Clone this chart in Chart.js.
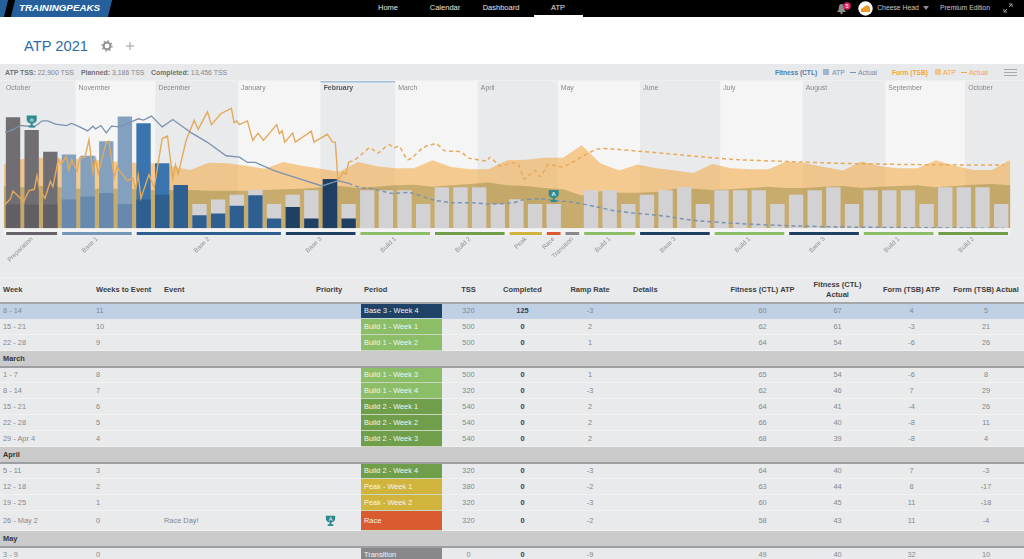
<!DOCTYPE html>
<html>
<head>
<meta charset="utf-8">
<title>ATP 2021</title>
<script src="https://cdn.jsdelivr.net/npm/chart.js@4/dist/chart.umd.min.js"></script>
<style>
* { box-sizing: border-box; }
html, body { margin: 0; padding: 0; width: 1024px; height: 559px; overflow: hidden; background: #fff; font-family: "Liberation Sans", Arial, sans-serif; }
.abs { position: absolute; white-space: nowrap; }
#nav { position: absolute; left: 0; top: 0; width: 1024px; height: 17px; background: #000; color: #e6e6e6; font-size: 7.5px; }
#nav .item { position: absolute; top: 3px; line-height: 10px; transform: translateX(-50%); }
#nav .item.side { font-size: 6.8px; color: #c9c9c9; }
#logoLeft { position: absolute; left: -4px; top: 0; width: 10px; height: 17px; background: #25609c; transform: skewX(-14deg); }
#logo { position: absolute; left: 13px; top: 0; width: 97px; height: 17px; background: #25609c; transform: skewX(-14deg); }
#logoText { position: absolute; left: 19px; top: 3px; color: #fff; font-size: 9.8px; line-height: 10px; font-weight: bold; font-style: italic; }
#active { position: absolute; left: 534px; top: 15px; width: 49px; height: 2px; background: #fff; }
#title { left: 24px; top: 37px; font-size: 14.7px; line-height: 18px; color: #2d6ba6; }
#toolbar { position: absolute; left: 0; top: 64px; width: 1024px; height: 17px; background: #e8e9eb; font-size: 6.9px; line-height: 17px; color: #85878b; border-bottom: 1px solid #f0f0f1; }
#toolbar b { color: #6f7175; }
#toolbar b.legend { font-size: 6.6px; }
#atpChart { position: absolute; left: 0; top: 81px; }
#week { position: absolute; left: 0; top: 277px; width: 1024px; border-collapse: collapse; table-layout: fixed; font-size: 7.4px; color: #85878b; background: #e9eaec; }
#week th { height: 25px; padding: 0 3px; font-size: 7.5px; line-height: 9.5px; color: #3c3d40; text-align: center; border-top: 1px solid #f2f2f3; border-bottom: 2px solid #a5a7aa; font-weight: bold; }
#week th.l, #week td.l { text-align: left; }
#week td { height: 16px; padding: 0 3px; line-height: 10px; text-align: center; border-bottom: 1px solid #f1f1f2; overflow: hidden; white-space: nowrap; }
#week tr.sel td { background: #c0d1e6; border-bottom-color: #c0d1e6; }
#week tr.month td { background: #cbcbcc; color: #333; font-weight: bold; text-align: left; padding-top: 2px; border-bottom: 2px solid #9d9ea1; }
#week tr.tall td { height: 20px; }
#week td.period { color: #f4f4f4; text-align: left; border-bottom: 1px solid #c9d6bd; }
#week td.done { color: #3c3d40; font-weight: bold; }
</style>
</head>
<body>
<div id="nav">
  <div id="logoLeft"></div><div id="logo"></div>
  <div id="logoText">TRAININGPEAKS</div>
  <div class="item" style="left:388px">Home</div>
  <div class="item" style="left:445px">Calendar</div>
  <div class="item" style="left:501px">Dashboard</div>
  <div class="item" style="left:558px">ATP</div>
  <div id="active"></div>
  <svg class="abs" style="left:836px;top:2px" width="20" height="13" viewBox="0 0 20 13">
    <path d="M1 10 Q3 8 3 5 Q3 2 5.5 2 Q8 2 8 5 Q8 8 10 10 Z" fill="#8d8d8d"/><circle cx="5.5" cy="11" r="1.2" fill="#8d8d8d"/>
    <circle cx="11" cy="4" r="3.8" fill="#d9246b"/><text x="11" y="6" font-size="5.5" fill="#fff" text-anchor="middle">5</text>
  </svg>
  <svg class="abs" style="left:858px;top:1px" width="15" height="15" viewBox="0 0 15 15">
    <circle cx="7.5" cy="7.5" r="7.2" fill="#fff"/><path d="M3 8 L9 4 Q12 5 12 8 L12 11 L3 11 Z" fill="#ef9a24"/>
  </svg>
  <div class="item side" style="left:898px">Cheese Head</div>
  <svg class="abs" style="left:923px;top:6px" width="6" height="4"><path d="M0 0 L6 0 L3 4 Z" fill="#8d8d8d"/></svg>
  <div class="item side" style="left:965px">Premium Edition</div>
  <svg class="abs" style="left:1003px;top:3px" width="10" height="10" viewBox="0 0 10 10"><path d="M1 9 L4 6 M9 1 L6 4 M6 1 L9 1 L9 4 M1 6 L1 9 L4 9" stroke="#9a9a9a" fill="none"/></svg>
</div>
<div id="title" class="abs">ATP 2021</div>
<svg class="abs" style="left:101px;top:40px" width="12" height="12" viewBox="0 0 12 12"><circle cx="6" cy="6" r="3.4" fill="none" stroke="#8f8f8f" stroke-width="2"/><circle cx="6" cy="6" r="5" fill="none" stroke="#8f8f8f" stroke-width="1.3" stroke-dasharray="1.6 2.3"/></svg>
<svg class="abs" style="left:125px;top:41px" width="10" height="10"><path d="M5 1 V9 M1 5 H9" stroke="#9a9a9a" stroke-width="1"/></svg>
<div id="toolbar">
  <span class="abs" style="left:5px"><b>ATP TSS:</b> 22,900 TSS</span>
  <span class="abs" style="left:81px"><b>Planned:</b> 3,186 TSS</span>
  <span class="abs" style="left:151px"><b>Completed:</b> 13,456 TSS</span>
  <b class="abs legend" style="left:775px;color:#4f7ba8">Fitness (CTL)</b>
  <span class="abs" style="left:823px;top:5px;width:6px;height:6px;background:#9fb4cd"></span>
  <span class="abs" style="left:832px;color:#6d90b5">ATP</span>
  <span class="abs" style="left:850px;top:8px;width:6px;height:1px;background:#6d90b5"></span>
  <span class="abs" style="left:858px;color:#6d90b5">Actual</span>
  <b class="abs legend" style="left:892px;color:#f3a63c">Form (TSB)</b>
  <span class="abs" style="left:935px;top:5px;width:6px;height:6px;background:#f0c48c"></span>
  <span class="abs" style="left:943px;color:#f3a63c">ATP</span>
  <span class="abs" style="left:961px;top:8px;width:6px;height:1px;background:#f3a63c"></span>
  <span class="abs" style="left:969px;color:#f3a63c">Actual</span>
  <svg class="abs" style="left:1004px;top:5px" width="13" height="7"><path d="M0 .5 H13 M0 3.5 H13 M0 6.5 H13" stroke="#a8a9ac"/></svg>
</div>
<canvas id="atpChart" width="1024" height="196"></canvas>
<table id="week"></table>
<script>
// months along the top of the chart, start given in days from the first week
const monthNames = ['October', 'November', 'December', 'January', 'February', 'March', 'April', 'May', 'June', 'July', 'August', 'September', 'October'];
const monthStarts = [-5, 23.5, 53.5, 84.5, 115.5, 143.5, 174.5, 204.5, 235.5, 265.5, 296.5, 327.5, 357.5];
const currentMonth = 4;

// training periods under the bars
const phaseNames = ['Preparation', 'Base 1', 'Base 2', 'Base 3', 'Build 1', 'Build 2', 'Peak', 'Race', 'Transition', 'Build 1', 'Base 3', 'Build 1', 'Base 3', 'Build 1', 'Build 2'];
const phaseFirstWeek = [0, 3, 7, 15, 19, 23, 27, 29, 30, 31, 34, 38, 42, 46, 50];
const phaseLastWeek = [2, 6, 14, 18, 22, 26, 28, 29, 30, 33, 37, 41, 45, 49, 53];
const phaseColors = ['#66646a', '#7396ba', '#2f5f91', '#1f3f63', '#8cbe67', '#6f9f4a', '#d0b43c', '#da5a32', '#88888c', '#8cbe67', '#1f3f63', '#8cbe67', '#1f3f63', '#8cbe67', '#6f9f4a'];
const phaseLight = ['#716e73', '#83a0bf', '#3a74ae', '#1f3f63', '#d2d2d4', '#d2d2d4', '#d2d2d4', '#d2d2d4', '#d2d2d4', '#d2d2d4', '#d2d2d4', '#d2d2d4', '#d2d2d4', '#d2d2d4', '#d2d2d4'];
const phaseDark = ['#625f64', '#6789ad', '#2f5f91', '#1f3f63', '#d2d2d4', '#d2d2d4', '#d2d2d4', '#d2d2d4', '#d2d2d4', '#d2d2d4', '#d2d2d4', '#d2d2d4', '#d2d2d4', '#d2d2d4', '#d2d2d4'];

// weekly TSS
const plannedTss = [312, 312, 312, 379, 419, 464, 317, 379, 442, 571, 317, 379, 442, 504, 317, 442, 500, 647, 320,
  500, 500, 500, 320, 540, 540, 540, 320, 380, 320, 320, 0, 500, 500, 320, 442, 500, 540, 320, 500, 500, 500, 320,
  442, 500, 540, 320, 500, 500, 500, 320, 540, 540, 540, 320];
const completedTss = [1472, 1302, 1012, 977, 959, 1151, 1481, 1392, 861, 571, 170, 192, 294, 433, 125, 277, 125, 647, 125];

// ATP values at the end of every week, first value is the start of the chart
const fitnessAtp = [63, 61, 63, 61, 59, 59, 59, 58, 57, 57, 57, 56, 56, 56, 57, 58, 59, 61, 63, 60,
  62, 64, 65, 62, 64, 66, 68, 64, 63, 60, 58, 49, 55, 53, 53, 54, 59, 59, 57, 58, 60, 62, 60, 60, 62, 63, 60, 62, 63, 64, 61, 63, 65, 66, 64];
const formAtp = [0, 9, 11, 10, 9, 7, 5, 3, 2, -3, -9, 3, 2, -2, -7, 4, -2, -7, -12, 4,
  -3, -6, -6, 7, -4, -8, -8, 7, 8, 11, 11, 32, 2, -10, 0, -6, -10, -14, 1, -6, -8, -8, 5, 2, -4, -10, 5, -3, -6, -6, 7, -2, -9, -9, 8];

// actual form, day and value
const formDays = [-3, -1, 0, 3, 4, 6, 8, 9, 10, 12, 14, 15, 17, 18, 20, 21, 22, 24, 25, 27, 28.5, 30, 31, 32, 35, 36, 38, 39, 40, 43, 45, 46, 47, 48, 51, 53, 56, 58, 60, 61, 62, 65, 68, 69.5, 73, 74.5, 78, 82, 83, 84, 85, 88, 90, 92, 94, 99, 100, 101, 102, 105, 106, 112, 113, 118, 120, 121, 122, 124, 125, 126];
const formActual = [-66, -57, -44, -57, -61, -43, -41, -18, -41, -56, -28, -37, 9, 0, 13, -9, 8, -11, 11, 12, 41, -13, 9, -15, 37, 39, -22, -3, -10, -27, -22, -42, -17, -56, -17, -38, 43, 47, -24, 0, -16, 40, 73, 58, 87, 66, 84, 93, 69, 72, 66, 72, 40, 52, 40, 66, 51, 56, 37, 52, 37, 55, 37, 50, 37, 37, -26, -13, -16, 4];
// projected form
const formPlanDays = [126, 128, 132, 134, 137, 141, 143, 145, 148, 150, 154, 159, 162, 168, 171, 178, 179, 183, 188, 190, 192, 196, 198, 201, 206, 209, 216, 220, 224, 235, 248, 260, 272, 290, 310, 335, 372];
const formPlan = [4, 7, 21, 28, 19, 33, 28, 30, 8, 12, 28, 34, 23, 21, 11, 6, 12, -2, 3, -2, -24, -10, -20, 0, -4, 1, 19, 26, 26, 22, 17, 12, 8, 5, 2, 0, -1];

// actual fitness, day and value
const ctlDays = [-3, -1, 3, 8, 11, 13, 16, 20, 22, 25, 28, 30, 31, 33, 35, 37, 40, 43, 47, 49, 52, 56, 60, 61, 67, 73, 80, 85, 88, 91, 98, 105, 116, 122, 126];
const ctlActual = [143, 145, 153, 151, 160, 160, 155, 153, 156, 151, 145, 152, 148, 153, 142, 152, 151, 156, 163, 161, 167, 151, 162, 159, 142, 128, 108, 106, 98, 98, 86, 77, 63, 71, 67];
// projected fitness
const ctlPlanDays = [126, 130, 135, 142, 149, 158, 165, 173, 179, 188, 191, 198, 204, 210, 219, 226, 235, 245, 255, 273, 290, 310, 335, 372];
const ctlPlan = [67, 61, 59, 52, 53, 42, 38, 38, 36, 38, 42, 44, 41, 39, 32, 26, 22, 18, 12, 7, 4, 2, 1, 0];

// goal events
const eventDays = [7, 203];
const eventFitness = [159, 48];
const eventLetters = ['', 'A'];

// the week table, a string is a month heading
const columns = ['Week', 'Weeks to Event', 'Event', 'Priority', 'Period', 'TSS', 'Completed', 'Ramp Rate', 'Details', 'Fitness (CTL) ATP', 'Fitness (CTL) Actual', 'Form (TSB) ATP', 'Form (TSB) Actual'];
const columnWidths = [93, 68, 152, 48, 81, 53, 55, 80, 95, 75, 75, 73, 76];
const tableRows = [
  ['8 - 14', 11, '', '', 'Base 3 - Week 4', 320, 125, -3, '', 60, 67, 4, 5],
  ['15 - 21', 10, '', '', 'Build 1 - Week 1', 500, 0, 2, '', 62, 61, -3, 21],
  ['22 - 28', 9, '', '', 'Build 1 - Week 2', 500, 0, 1, '', 64, 54, -6, 26],
  'March',
  ['1 - 7', 8, '', '', 'Build 1 - Week 3', 500, 0, 1, '', 65, 54, -6, 8],
  ['8 - 14', 7, '', '', 'Build 1 - Week 4', 320, 0, -3, '', 62, 46, 7, 29],
  ['15 - 21', 6, '', '', 'Build 2 - Week 1', 540, 0, 2, '', 64, 41, -4, 26],
  ['22 - 28', 5, '', '', 'Build 2 - Week 2', 540, 0, 2, '', 66, 40, -8, 11],
  ['29 - Apr 4', 4, '', '', 'Build 2 - Week 3', 540, 0, 2, '', 68, 39, -8, 4],
  'April',
  ['5 - 11', 3, '', '', 'Build 2 - Week 4', 320, 0, -3, '', 64, 40, 7, -3],
  ['12 - 18', 2, '', '', 'Peak - Week 1', 380, 0, -2, '', 63, 44, 8, -17],
  ['19 - 25', 1, '', '', 'Peak - Week 2', 320, 0, -3, '', 60, 45, 11, -18],
  ['26 - May 2', 0, 'Race Day!', 'A', 'Race', 320, 0, -2, '', 58, 43, 11, -4],
  'May',
  ['3 - 9', 0, '', '', 'Transition', 0, 0, -9, '', 49, 40, 32, 10]
];
const periodColors = { 'Base 3': '#1f4266', 'Build 1': '#8cbe67', 'Build 2': '#6f9f4a', 'Peak': '#d0b43c', 'Race': '#da5a32', 'Transition': '#88888c' };

// ---- table ----
const leftColumns = [0, 1, 2, 3, 4, 8];
const trophySvg = '<svg width="13" height="13" viewBox="0 0 14 14" style="vertical-align:middle;margin-left:8px"><path d="M2 2 H12 V5 Q12 8 8 9 V11 H10 V13 H4 V11 H6 V9 Q2 8 2 5 Z" fill="#2c8a8e"/><text x="7" y="7" font-size="6" fill="#fff" text-anchor="middle">A</text></svg>';
let tableHtml = '<colgroup>' + columnWidths.map(w => '<col style="width:' + w + 'px">').join('') + '</colgroup><tr>';
columns.forEach((c, i) => {
  tableHtml += '<th class="' + (leftColumns.includes(i) ? 'l' : '') + '">' + c + '</th>';
});
tableHtml += '</tr>';
tableRows.forEach((row, r) => {
  if (typeof row === 'string') {
    tableHtml += '<tr class="month"><td colspan="13">' + row + '</td></tr>';
    return;
  }
  tableHtml += '<tr class="' + (r === 0 ? 'sel' : '') + (row[4] === 'Race' ? ' tall' : '') + '">';
  row.forEach((cell, i) => {
    let cls = leftColumns.includes(i) ? 'l' : '';
    let style = '';
    let text = cell;
    if (i === 4) {
      cls = 'period';
      style = ' style="background:' + periodColors[String(cell).split(' - ')[0]] + '"';
    }
    if (i === 6) cls = 'done';
    if (i === 3 && cell) text = trophySvg;
    tableHtml += '<td class="' + cls + '"' + style + '>' + text + '</td>';
  });
  tableHtml += '</tr>';
});
document.getElementById('week').innerHTML = tableHtml;

// ---- chart ----
const barWidth = 13.7;
const weekPhase = plannedTss.map((p, w) => phaseFirstWeek.findLastIndex(f => f <= w));
const completedOf = w => completedTss[w] || 0;
const backBars = plannedTss.map((p, w) => ({ x: w * 7, y: Math.max(p, completedOf(w)) }));
const frontBars = plannedTss.map((p, w) => ({ x: w * 7, y: Math.min(p, completedOf(w)) }));
const backColors = plannedTss.map((p, w) => p > completedOf(w) ? '#d2d2d4' : phaseLight[weekPhase[w]]);
const frontColors = plannedTss.map((p, w) => phaseDark[weekPhase[w]]);
const weekEnd = i => i * 7 - 3.5;
const pairs = (xs, ys) => xs.map((x, i) => ({ x: x, y: ys[i] }));

function trophy(letter) {
  const c = document.createElement('canvas');
  c.width = 14;
  c.height = 14;
  const g = c.getContext('2d');
  g.fillStyle = '#2c8a8e';
  g.beginPath();
  g.moveTo(2, 1);
  g.lineTo(12, 1);
  g.lineTo(12, 5);
  g.quadraticCurveTo(12, 8, 8, 9);
  g.lineTo(8, 11);
  g.lineTo(10, 11);
  g.lineTo(10, 13);
  g.lineTo(4, 13);
  g.lineTo(4, 11);
  g.lineTo(6, 11);
  g.lineTo(6, 9);
  g.quadraticCurveTo(2, 8, 2, 5);
  g.closePath();
  g.fill();
  g.fillStyle = '#fff';
  g.font = 'bold 6px "Liberation Sans"';
  g.textAlign = 'center';
  g.fillText(letter || 'o', 7, 6.5);
  return c;
}

// month bands and names behind everything, period strips under the bars
const atpBackground = {
  id: 'atpBackground',
  beforeDraw(chart) {
    const { ctx, chartArea, scales } = chart;
    ctx.save();
    ctx.fillStyle = '#e9eaec';
    ctx.fillRect(0, 0, chart.width, chart.height);
    monthStarts.forEach((start, i) => {
      const x0 = i === 0 ? 0 : scales.x.getPixelForValue(start);
      const x1 = i === monthStarts.length - 1 ? chart.width : scales.x.getPixelForValue(monthStarts[i + 1]);
      ctx.fillStyle = i % 2 === 1 ? '#f5f5f5' : '#e9eaec';
      ctx.fillRect(x0, 0, x1 - x0, chartArea.bottom);
      if (i === currentMonth) {
        ctx.fillStyle = '#a3bfdc';
        ctx.fillRect(x0, 0, x1 - x0, 1.5);
      }
      ctx.font = (i === currentMonth ? 'bold ' : '') + '6.9px "Liberation Sans"';
      ctx.fillStyle = i === currentMonth ? '#55575b' : '#85878b';
      ctx.textBaseline = 'middle';
      ctx.fillText(monthNames[i], x0 + (i === 0 ? 6 : 3), 7.5);
    });
    ctx.restore();
  },
  afterDatasetsDraw(chart) {
    const { ctx, chartArea, scales } = chart;
    ctx.save();
    ctx.fillStyle = '#f3f3f4';
    ctx.fillRect(chartArea.left, chartArea.bottom, chartArea.width, 7);
    phaseNames.forEach((name, i) => {
      const x0 = scales.x.getPixelForValue(phaseFirstWeek[i] * 7) - barWidth / 2;
      const x1 = scales.x.getPixelForValue(phaseLastWeek[i] * 7) + barWidth / 2;
      ctx.fillStyle = phaseColors[i];
      ctx.fillRect(x0, chartArea.bottom + 3.7, x1 - x0, 3);
    });
    ctx.restore();
  }
};

new Chart('atpChart', {
  type: 'bar',
  data: {
    datasets: [
      { type: 'line', label: 'Goal', data: pairs(eventDays, eventFitness), yAxisID: 'yFit', showLine: false, order: 1,
        pointStyle: eventLetters.map(trophy), pointRadius: 7 },
      { type: 'line', label: 'Fitness (CTL) Actual', data: pairs(ctlDays, ctlActual), yAxisID: 'yFit', order: 2,
        borderColor: '#7c93ae', borderWidth: 1.3, pointRadius: 0, tension: 0 },
      { type: 'line', label: 'Fitness (CTL) Projected', data: pairs(ctlPlanDays, ctlPlan), yAxisID: 'yFit', order: 2,
        borderColor: '#7d93ad', borderWidth: 1.5, borderDash: [4, 3], pointRadius: 0, tension: 0.2 },
      { type: 'line', label: 'Form (TSB) Actual', data: pairs(formDays, formActual), yAxisID: 'yForm', order: 3,
        borderColor: '#e3aa5c', borderWidth: 1.4, pointRadius: 0, tension: 0 },
      { type: 'line', label: 'Form (TSB) Projected', data: pairs(formPlanDays, formPlan), yAxisID: 'yForm', order: 3,
        borderColor: '#e8ab5c', borderWidth: 1.5, borderDash: [4, 3], pointRadius: 0, tension: 0.2 },
      { label: 'Completed', data: frontBars, yAxisID: 'yTss', order: 4, grouped: false, barThickness: barWidth,
        backgroundColor: frontColors, borderWidth: 0 },
      { label: 'TSS', data: backBars, yAxisID: 'yTss', order: 5, grouped: false, barThickness: barWidth,
        backgroundColor: backColors, borderWidth: 0 },
      { type: 'line', label: 'Fitness (CTL) ATP', data: fitnessAtp.map((v, i) => ({ x: weekEnd(i), y: v })), yAxisID: 'yFit', order: 6,
        backgroundColor: 'rgba(100,104,30,0.3)', borderWidth: 0, pointRadius: 0, fill: 'start', tension: 0 },
      { type: 'line', label: 'Form (TSB) ATP', data: formAtp.map((v, i) => ({ x: weekEnd(i), y: v })), yAxisID: 'yForm', order: 7,
        backgroundColor: 'rgba(243,160,44,0.5)', borderWidth: 0, pointRadius: 0, fill: 'start', tension: 0 }
    ]
  },
  plugins: [atpBackground],
  options: {
    responsive: false,
    animation: false,
    devicePixelRatio: 1,
    layout: { autoPadding: false, padding: { left: 3.7, right: 13.5, top: 19, bottom: 0 } },
    plugins: { legend: { display: false }, tooltip: { enabled: false } },
    scales: {
      x: {
        type: 'linear', position: 'bottom', min: -3.5, max: 374.5, offset: false,
        grid: { display: false, offset: false, drawTicks: false }, border: { display: false },
        afterBuildTicks: axis => {
          axis.ticks = phaseNames.map((n, i) => ({ value: (phaseFirstWeek[i] + phaseLastWeek[i]) * 3.5 }));
        },
        afterFit: axis => {
          axis.height = 48.7;
          axis.paddingLeft = 0;
          axis.paddingRight = 0;
        },
        ticks: {
          autoSkip: false, minRotation: 45, maxRotation: 45, padding: 7, color: '#8f9195',
          font: { family: '"Liberation Sans"', size: 6.3 },
          callback: (v, i) => phaseNames[i]
        }
      },
      yTss: { display: false, min: 0, max: 1704 },
      yFit: { display: false, min: 0, max: 191 },
      yForm: { display: false, min: -105.5, max: 106.7 }
    }
  }
});
</script>
</body>
</html>
